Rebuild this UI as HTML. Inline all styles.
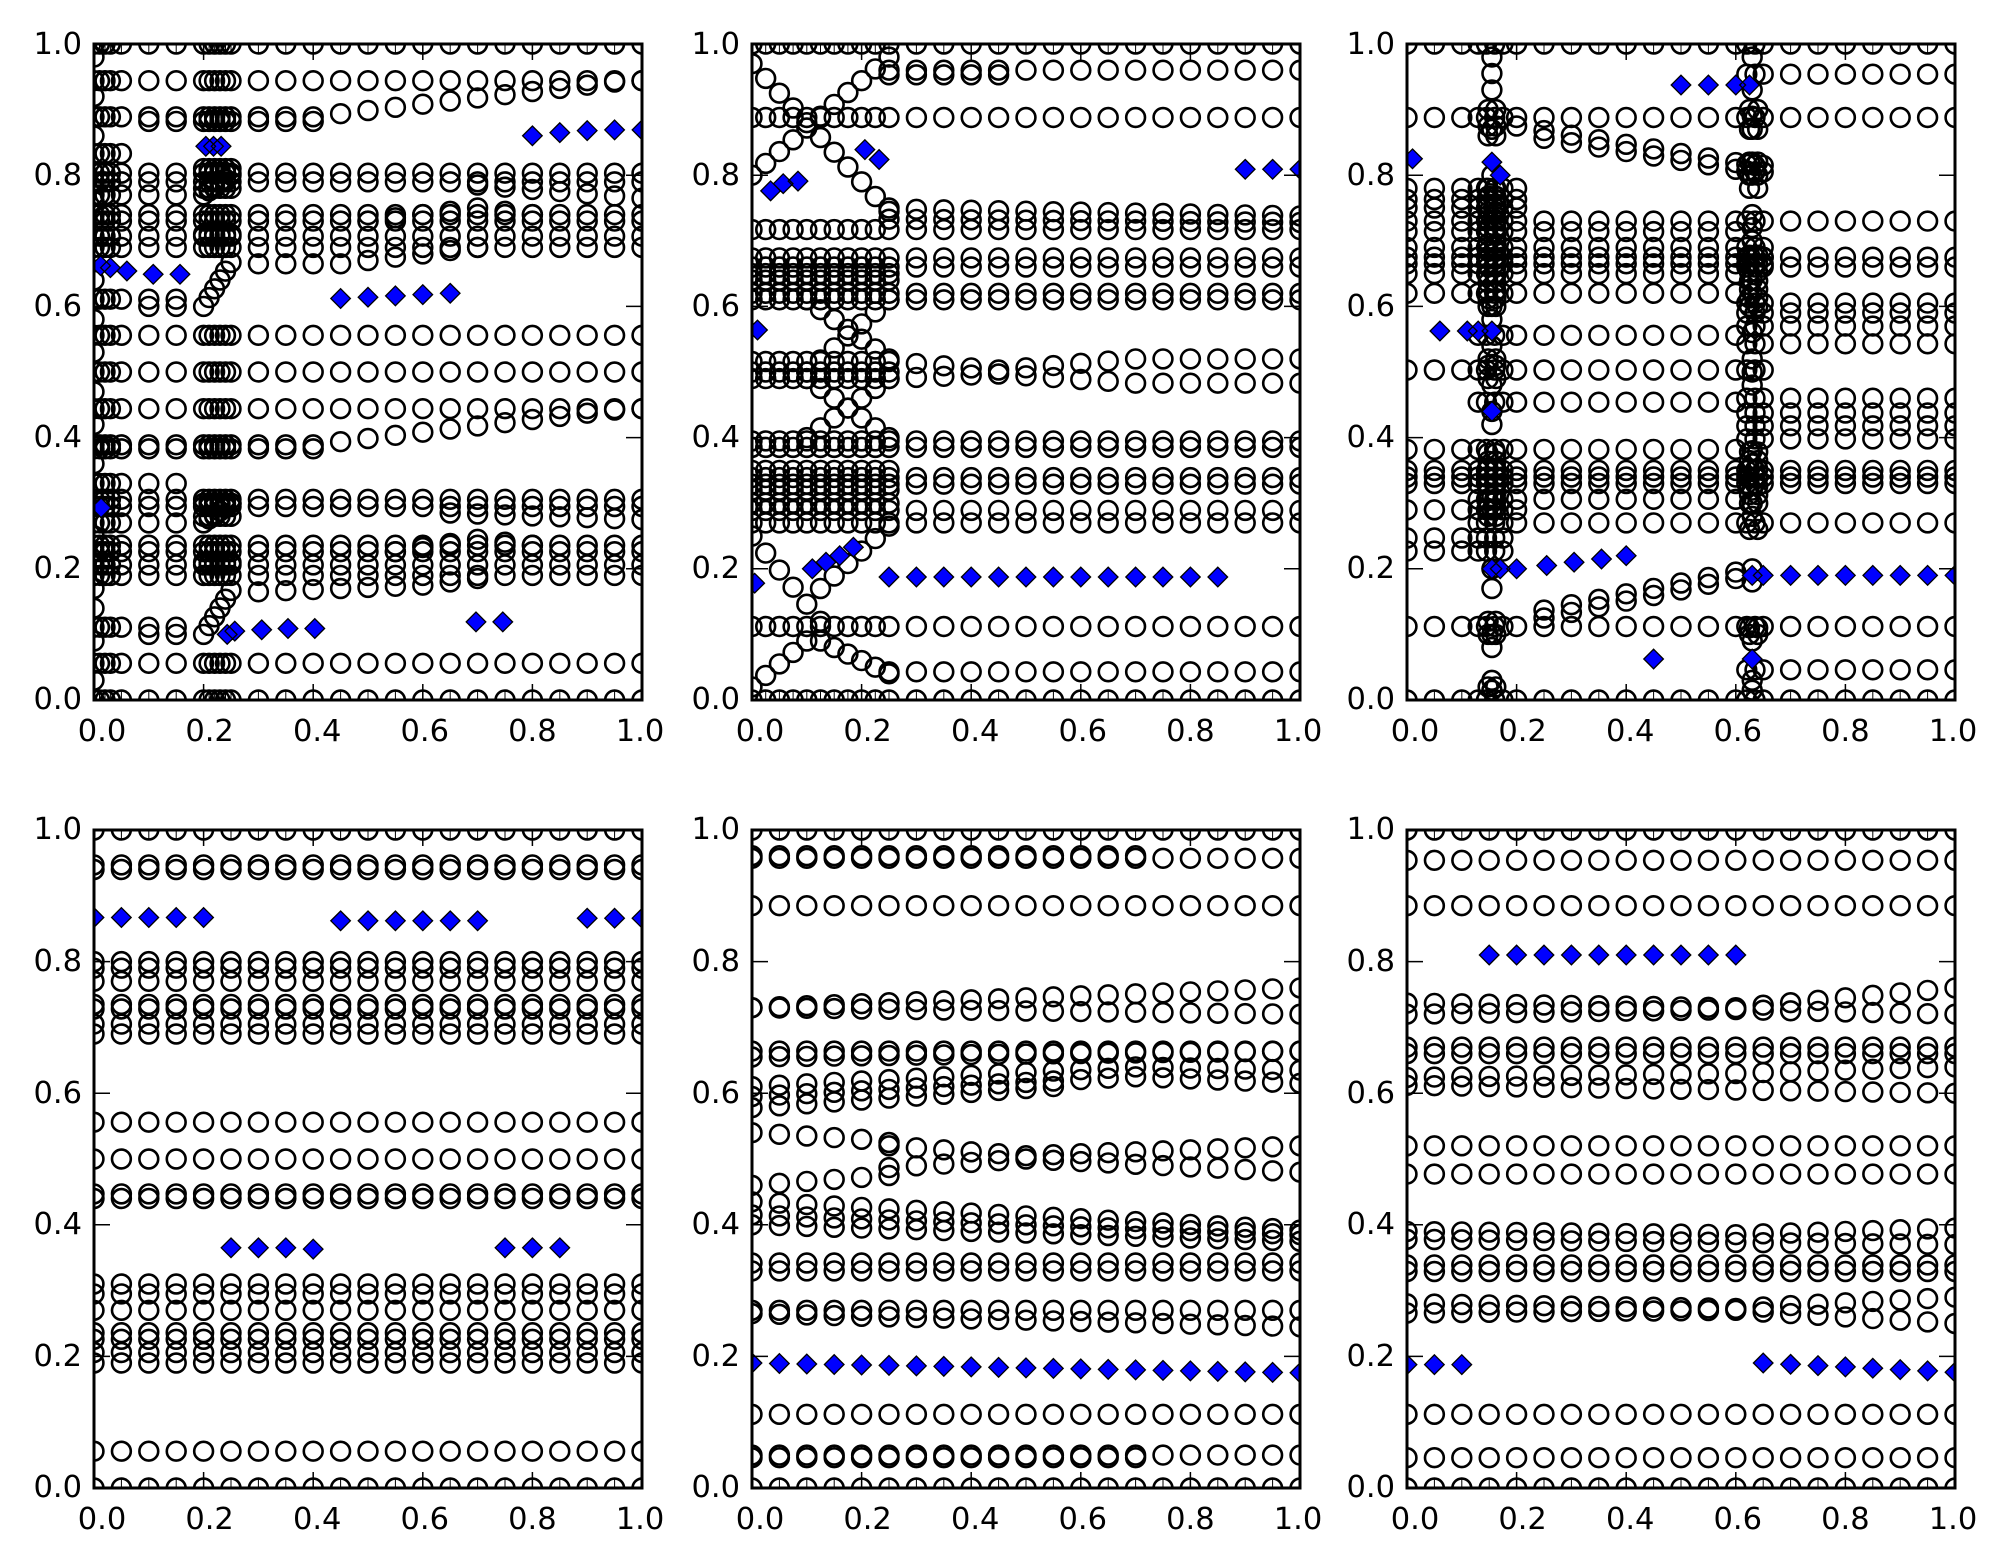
<!DOCTYPE html>
<html><head><meta charset="utf-8">
<style>html,body{margin:0;padding:0;background:#fff}svg{display:block}
.t{font-family:"DejaVu Sans","Liberation Sans",sans-serif;font-size:30.5px;fill:#000}
.ye{text-anchor:end}.xm{text-anchor:middle}</style></head>
<body>
<svg id="s" xmlns="http://www.w3.org/2000/svg" width="2004" height="1565" viewBox="0 0 2004 1565">
<rect width="2004" height="1565" fill="#fff"/>
<defs>
<clipPath id="c0"><rect x="94" y="44" width="548" height="656"/></clipPath>
<clipPath id="c1"><rect x="752" y="44" width="548" height="656"/></clipPath>
<clipPath id="c2"><rect x="1407" y="44" width="548" height="656"/></clipPath>
<clipPath id="c3"><rect x="94" y="830" width="548" height="658"/></clipPath>
<clipPath id="c4"><rect x="752" y="830" width="548" height="658"/></clipPath>
<clipPath id="c5"><rect x="1407" y="830" width="548" height="658"/></clipPath>
</defs>
<g id="m"></g>
<g id="tk" stroke="#000" stroke-width="1.5"></g>
<g fill="none" stroke="#000" stroke-width="3">
<rect x="94" y="44" width="548" height="656"/>
<rect x="752" y="44" width="548" height="656"/>
<rect x="1407" y="44" width="548" height="656"/>
<rect x="94" y="830" width="548" height="658"/>
<rect x="752" y="830" width="548" height="658"/>
<rect x="1407" y="830" width="548" height="658"/>
</g>
<g class="t">
<text class="ye" x="82" y="709">0.0</text><text class="ye" x="82" y="578">0.2</text><text class="ye" x="82" y="447">0.4</text><text class="ye" x="82" y="316">0.6</text><text class="ye" x="82" y="185">0.8</text><text class="ye" x="82" y="54">1.0</text>
<text class="ye" x="740" y="709">0.0</text><text class="ye" x="740" y="578">0.2</text><text class="ye" x="740" y="447">0.4</text><text class="ye" x="740" y="316">0.6</text><text class="ye" x="740" y="185">0.8</text><text class="ye" x="740" y="54">1.0</text>
<text class="ye" x="1395" y="709">0.0</text><text class="ye" x="1395" y="578">0.2</text><text class="ye" x="1395" y="447">0.4</text><text class="ye" x="1395" y="316">0.6</text><text class="ye" x="1395" y="185">0.8</text><text class="ye" x="1395" y="54">1.0</text>
<text class="ye" x="82" y="1497">0.0</text><text class="ye" x="82" y="1366">0.2</text><text class="ye" x="82" y="1234">0.4</text><text class="ye" x="82" y="1103">0.6</text><text class="ye" x="82" y="971">0.8</text><text class="ye" x="82" y="839">1.0</text>
<text class="ye" x="740" y="1497">0.0</text><text class="ye" x="740" y="1366">0.2</text><text class="ye" x="740" y="1234">0.4</text><text class="ye" x="740" y="1103">0.6</text><text class="ye" x="740" y="971">0.8</text><text class="ye" x="740" y="839">1.0</text>
<text class="ye" x="1395" y="1497">0.0</text><text class="ye" x="1395" y="1366">0.2</text><text class="ye" x="1395" y="1234">0.4</text><text class="ye" x="1395" y="1103">0.6</text><text class="ye" x="1395" y="971">0.8</text><text class="ye" x="1395" y="839">1.0</text>

<text class="xm" x="102" y="741">0.0</text><text class="xm" x="209.6" y="741">0.2</text><text class="xm" x="317.2" y="741">0.4</text><text class="xm" x="424.8" y="741">0.6</text><text class="xm" x="532.4" y="741">0.8</text><text class="xm" x="640" y="741">1.0</text>
<text class="xm" x="760" y="741">0.0</text><text class="xm" x="867.6" y="741">0.2</text><text class="xm" x="975.2" y="741">0.4</text><text class="xm" x="1082.8" y="741">0.6</text><text class="xm" x="1190.4" y="741">0.8</text><text class="xm" x="1298" y="741">1.0</text>
<text class="xm" x="1415" y="741">0.0</text><text class="xm" x="1522.6" y="741">0.2</text><text class="xm" x="1630.2" y="741">0.4</text><text class="xm" x="1737.8" y="741">0.6</text><text class="xm" x="1845.4" y="741">0.8</text><text class="xm" x="1953" y="741">1.0</text>
<text class="xm" x="102" y="1529">0.0</text><text class="xm" x="209.6" y="1529">0.2</text><text class="xm" x="317.2" y="1529">0.4</text><text class="xm" x="424.8" y="1529">0.6</text><text class="xm" x="532.4" y="1529">0.8</text><text class="xm" x="640" y="1529">1.0</text>
<text class="xm" x="760" y="1529">0.0</text><text class="xm" x="867.6" y="1529">0.2</text><text class="xm" x="975.2" y="1529">0.4</text><text class="xm" x="1082.8" y="1529">0.6</text><text class="xm" x="1190.4" y="1529">0.8</text><text class="xm" x="1298" y="1529">1.0</text>
<text class="xm" x="1415" y="1529">0.0</text><text class="xm" x="1522.6" y="1529">0.2</text><text class="xm" x="1630.2" y="1529">0.4</text><text class="xm" x="1737.8" y="1529">0.6</text><text class="xm" x="1845.4" y="1529">0.8</text><text class="xm" x="1953" y="1529">1.0</text>
</g>
</svg>
<script>
(function(){
var P=[[94,44,548,656],[752,44,548,656],[1407,44,548,656],[94,830,548,658],[752,830,548,658],[1407,830,548,658]];
var circ=[[],[],[],[],[],[]], dia=[[],[],[],[],[],[]], lns=[[],[],[],[],[],[]];
function C(p,x,y){var a=P[p],px=a[0]+x*a[2],py=a[1]+a[3]-y*a[3];
 circ[p].push('<circle cx="'+px.toFixed(1)+'" cy="'+py.toFixed(1)+'" r="9.4"/>');
 if(y<=0.0001){lns[p].push('M'+px.toFixed(1)+' '+py.toFixed(1)+'v-9');}
 if(y>=0.9999){lns[p].push('M'+px.toFixed(1)+' '+py.toFixed(1)+'v9');}
}
function D(p,x,y){var a=P[p],px=a[0]+x*a[2],py=a[1]+a[3]-y*a[3],s=9.8;
 dia[p].push('M'+px.toFixed(1)+' '+(py-s).toFixed(1)+'L'+(px+s).toFixed(1)+' '+py.toFixed(1)+'L'+px.toFixed(1)+' '+(py+s).toFixed(1)+'L'+(px-s).toFixed(1)+' '+py.toFixed(1)+'Z');}
function rng(a,b,s){var r=[];for(var v=a;v<=b+1e-9;v+=s)r.push(+v.toFixed(4));return r;}
function L(pts){return function(x){if(x<=pts[0][0])return pts[0][1];for(var i=1;i<pts.length;i++){if(x<=pts[i][0]){var x0=pts[i-1][0],y0=pts[i-1][1],x1=pts[i][0],y1=pts[i][1];return y0+(y1-y0)*(x-x0)/(x1-x0);}}return pts[pts.length-1][1];};}
function R(p,xs,f,x0,x1){if(x0===undefined)x0=-1;if(x1===undefined)x1=2;for(var i=0;i<xs.length;i++){var x=xs[i];if(x>=x0-1e-9&&x<=x1+1e-9)C(p,x,typeof f==='number'?f:f(x));}}
function DL(p,l){l.forEach(function(d){D(p,d[0],d[1]);});}
var G=rng(0,1,0.05);

/* ---------- Panel 0 ---------- */
var X=[0,0.01,0.02,0.03,0.05,0.1,0.15,0.2,0.21,0.22,0.23,0.24,0.25].concat(rng(0.3,1,0.05));
[0,1,0.944,0.556,0.5,0.444,0.056].forEach(function(y){R(0,X,y);});
R(0,X,0.889,0,0.4);R(0,X,0.882,0.1,0.4);
R(0,X,L([[0.4,0.889],[0.95,0.942],[1,0.944]]),0.45,1);
R(0,X,0.803);R(0,X,0.79);R(0,X,L([[0.7,0.785],[1,0.765]]),0.7,1);
R(0,X,0.74);R(0,X,0.73);R(0,X,L([[0.5,0.73],[0.7,0.75],[0.8,0.74]]),0.5,0.8);
R(0,X,0.707);R(0,X,0.69);
R(0,X,L([[0.3,0.665],[0.45,0.665],[0.7,0.69]]),0.3,0.7);
R(0,X,0.389,0,0.4);R(0,X,0.383,0,0.4);
R(0,X,L([[0.4,0.389],[0.95,0.442],[1,0.444]]),0.45,1);
R(0,X,0.306);R(0,X,0.295);R(0,X,L([[0.65,0.285],[1,0.275]]),0.65,1);
R(0,X,0.236);R(0,X,0.226);R(0,X,L([[0.55,0.226],[0.7,0.245],[0.8,0.236]]),0.55,0.8);
R(0,X,0.206);R(0,X,0.19);
R(0,X,L([[0.3,0.165],[0.6,0.175],[0.75,0.19]]),0.3,0.7);
var XL=[0,0.01,0.02,0.03,0.05,0.1,0.15];
[0.611,0.111,0.33,0.27,0.77].forEach(function(y){R(0,XL,y);});
R(0,XL,0.833,0,0.05);
R(0,XL,0.6,0.1,0.15);R(0,XL,0.1,0.1,0.15);
[0.98,0.92,0.86,0.76,0.64,0.58,0.53,0.47,0.42,0.36,0.25,0.17,0.14,0.09,0.03].forEach(function(y){C(0,0,y);});
var XM=[0.2,0.21,0.22,0.23,0.24,0.25];
[0.81,0.78,0.71,0.3,0.28,0.21].forEach(function(y){R(0,XM,y);});
XM.forEach(function(x,i){C(0,x,0.6+i*0.0134);C(0,x,0.1+i*0.0134);C(0,x,0.77+i*0.006);C(0,x,0.27+i*0.006);});
DL(0,[[0.012,0.662],[0.03,0.659],[0.06,0.654],[0.108,0.649],[0.157,0.649],
[0.204,0.844],[0.218,0.844],[0.232,0.844],
[0.8,0.86],[0.85,0.865],[0.9,0.868],[0.95,0.869],[1,0.869],
[0.45,0.612],[0.5,0.614],[0.55,0.616],[0.6,0.618],[0.65,0.62],
[0.013,0.293],
[0.243,0.1],[0.257,0.105],[0.306,0.107],[0.354,0.109],[0.403,0.109],
[0.697,0.119],[0.746,0.119]]);

/* ---------- Panel 1 ---------- */
var XL2=rng(0,0.25,0.025),XR2=rng(0.3,1,0.05),X2=XL2.concat(XR2);
[0,1,0.888,0.717,0.674,0.66,0.62,0.61,0.395,0.385,0.339,0.329,0.289,0.27,0.112].forEach(function(y){R(1,X2,y);});
R(1,X2,0.96,0.25,1);R(1,X2,0.953,0.25,0.45);
R(1,X2,L([[0.25,0.75],[0.3,0.748],[1,0.738]]),0.25,1);
R(1,X2,L([[0.25,0.733],[1,0.728]]),0.25,1);
R(1,X2,0.043,0.25,1);
R(1,X2,L([[0,0.516],[0.25,0.516],[0.45,0.503],[0.7,0.52]]));
R(1,X2,L([[0,0.49],[0.25,0.49],[0.45,0.497],[0.7,0.483]]));
[0.65,0.64,0.35,0.32,0.3,0.5].forEach(function(y){R(1,XL2,y);});
XL2.forEach(function(x){
 C(1,x,0.97-0.9*x);C(1,x,0.8+0.72*x);
 if(x>=0.1-1e-9){var t=(x-0.1)/0.15;C(1,x,0.61-0.09*t);C(1,x,0.5+0.11*t);C(1,x,0.49-0.09*t);C(1,x,0.4+0.09*t);}
 if(x<=0.125){var u=x/0.125;C(1,x,0.25-0.13*u);}
 if(x>=0.125-1e-9){var w=(x-0.125)/0.125;C(1,x,0.17+0.095*w);C(1,x,0.09-0.05*w);}
 if(x<=0.1){C(1,x,0.02+0.7*x);}
});
DL(1,[[0.005,0.178],[0.11,0.2],[0.135,0.21],[0.16,0.22],[0.185,0.233],
[0.034,0.776],[0.057,0.787],[0.084,0.791],[0.206,0.839],[0.232,0.824],
[0.9,0.809],[0.95,0.809],[1,0.809],[0.01,0.564]]);
rng(0.25,0.85,0.05).forEach(function(x){D(1,x,0.1875);});

/* ---------- Panel 2 ---------- */
var X3=[0,0.05,0.1,0.13,0.145,0.16,0.175].concat(rng(0.2,0.6,0.05),[0.62,0.635,0.65],rng(0.7,1,0.05));
[0,1,0.888,0.73,0.35,0.34,0.33,0.112].forEach(function(y){R(2,X3,y);});
R(2,X3,0.954,0.62,1);
R(2,X3,L([[0.2,0.875],[0.63,0.815]]),0.2,0.65);
R(2,X3,L([[0.2,0.863],[0.63,0.805]]),0.25,0.65);
[0.78,0.763,0.75].forEach(function(y){R(2,X3,y,0,0.2);});
R(2,X3,0.714,0,0.6);
[0.69,0.675,0.665].forEach(function(y){R(2,X3,y,0,0.65);});
[0.675,0.66].forEach(function(y){R(2,X3,y,0.62,1);});
[0.65,0.62].forEach(function(y){R(2,X3,y,0,0.6);});
[0.605,0.59,0.57,0.543].forEach(function(y){R(2,X3,y,0.62,1);});
R(2,X3,0.556,0.13,0.6);
R(2,X3,0.503,0,0.65);
R(2,X3,0.454,0.13,0.6);
[0.46,0.4375,0.418,0.398].forEach(function(y){R(2,X3,y,0.62,1);});
R(2,X3,0.382,0,0.6);
R(2,X3,0.306,0.13,0.6);
R(2,X3,0.29,0,0.2);
R(2,X3,0.27,0.13,1);
[0.247,0.227].forEach(function(y){R(2,X3,y,0,0.175);});
R(2,X3,L([[0.25,0.137],[0.6,0.195]]),0.25,0.6);
R(2,X3,L([[0.25,0.125],[0.6,0.185]]),0.25,0.6);
R(2,X3,0.046,0.62,1);
[0.98,0.955,0.93,0.87,0.8,0.6,0.58,0.54,0.48,0.44,0.42,0.31,0.29,0.2,0.17,0.1,0.08,0.03,0.015].forEach(function(y){C(2,0.155,y);});
[0.98,0.93,0.89,0.87,0.82,0.8,0.74,0.72,0.7,0.64,0.62,0.56,0.52,0.5,0.48,0.38,0.36,0.32,0.3,0.28,0.2,0.18,0.09,0.03,0.015].forEach(function(y){C(2,0.63,y);});
/* dense blobs */
[0.148,0.162].forEach(function(x){
 rng(0.6,0.78,0.012).forEach(function(y){C(2,x,y);});
 rng(0.28,0.38,0.012).forEach(function(y){C(2,x,y);});
 [0.49,0.51,0.52,0.86,0.875,0.9,0.1,0.12,0.02].forEach(function(y){C(2,x,y);});
});
[0.625,0.64].forEach(function(x){
 rng(0.6,0.68,0.013).forEach(function(y){C(2,x,y);});
 rng(0.3,0.38,0.013).forEach(function(y){C(2,x,y);});
 [0.78,0.8,0.82,0.87,0.9,0.26,0.11,0.1].forEach(function(y){C(2,x,y);});
});
DL(2,[[0.5,0.9375],[0.55,0.9375],[0.6,0.9375],[0.625,0.9375],
[0.01,0.825],[0.155,0.82],[0.17,0.8],
[0.06,0.5625],[0.11,0.5625],[0.13,0.5625],[0.155,0.5625],[0.155,0.44],
[0.155,0.2],[0.17,0.2],[0.2,0.2],[0.255,0.205],[0.305,0.21],[0.355,0.215],[0.4,0.22],
[0.63,0.19],[0.65,0.19],[0.45,0.0625],[0.63,0.0625]]);
rng(0.7,1,0.05).forEach(function(x){D(2,x,0.19);});

/* ---------- Panel 3 ---------- */
[0,1,0.947,0.94,0.8,0.79,0.77,0.735,0.728,0.705,0.69,0.556,0.5,0.447,0.44,0.31,0.295,0.27,0.236,0.226,0.206,0.19,0.056].forEach(function(y){R(3,G,y);});
[0,0.05,0.1,0.15,0.2].forEach(function(x){D(3,x,0.867);});
[0.45,0.5,0.55,0.6,0.65,0.7].forEach(function(x){D(3,x,0.862);});
[0.9,0.95,1].forEach(function(x){D(3,x,0.866);});
[0.25,0.3,0.35].forEach(function(x){D(3,x,0.365);});D(3,0.4,0.363);
[0.75,0.8,0.85].forEach(function(x){D(3,x,0.365);});

/* ---------- Panel 4 ---------- */
[0,1,0.885,0.112].forEach(function(y){R(4,G,y);});
R(4,G,0.957);R(4,G,0.961,0,0.7);
R(4,G,L([[0,0.73],[1,0.76]]));R(4,G,L([[0,0.73],[1,0.72]]));
R(4,G,0.664);R(4,G,L([[0,0.655],[1,0.664]]));
R(4,G,L([[0,0.61],[0.7,0.64],[1,0.635]]));R(4,G,L([[0,0.595],[0.7,0.625],[1,0.615]]));R(4,G,L([[0,0.578],[0.55,0.61]]),0,0.55);
R(4,G,L([[0,0.54],[0.2,0.53],[0.25,0.525]]),0,0.25);
R(4,G,L([[0.25,0.52],[0.5,0.505],[1,0.52]]),0.25,1);
R(4,G,L([[0.25,0.487],[0.5,0.5],[1,0.48]]),0.25,1);
R(4,G,L([[0,0.46],[0.25,0.475]]),0,0.25);
R(4,G,L([[0,0.435],[1,0.392]]));R(4,G,L([[0,0.415],[1,0.385]]));R(4,G,L([[0,0.4],[1,0.375]]));
R(4,G,0.342);R(4,G,0.33);
R(4,G,0.27);R(4,G,L([[0,0.265],[1,0.245]]));
R(4,G,0.05);R(4,G,0.046,0,0.7);
G.forEach(function(x){D(4,x,0.19-0.015*x);});

/* ---------- Panel 5 ---------- */
[0,1,0.954,0.885,0.52,0.477,0.112,0.046].forEach(function(y){R(5,G,y);});
R(5,G,L([[0,0.737],[0.6,0.73],[1,0.76]]));R(5,G,L([[0,0.72],[0.6,0.727],[1,0.72]]));
R(5,G,0.67);R(5,G,0.66);
R(5,G,L([[0,0.624],[0.6,0.63],[1,0.64]]));R(5,G,L([[0,0.612],[1,0.6]]));
R(5,G,L([[0,0.39],[0.6,0.385],[1,0.395]]));R(5,G,L([[0,0.378],[1,0.37]]));
R(5,G,0.339);R(5,G,0.329);
R(5,G,L([[0,0.28],[0.6,0.273],[1,0.29]]));R(5,G,L([[0,0.266],[0.6,0.27],[1,0.25]]));
rng(0.15,0.6,0.05).forEach(function(x){D(5,x,0.81);});
[0,0.05,0.1].forEach(function(x){D(5,x,0.1875);});
rng(0.65,1,0.05).forEach(function(x){D(5,x,0.19-0.014*(x-0.65)/0.35);});

/* ---------- render ---------- */
var h='';
for(var p=0;p<6;p++){
 h+='<g clip-path="url(#c'+p+')">';
 h+='<g fill="none" stroke="#000" stroke-width="2.6">'+circ[p].join('')+'</g>';
 h+='<path d="'+lns[p].join('')+'" stroke="#000" stroke-width="1" fill="none"/>';
 h+='<path d="'+dia[p].join('')+'" fill="#0000ff" stroke="#000" stroke-width="1.3"/>';
 h+='</g>';
}
document.getElementById('m').innerHTML=h;
var t='';
for(var q=0;q<6;q++){
 var a=P[q],l=a[0],tp=a[1],w=a[2],hh=a[3],b=tp+hh,r=l+w;
 [0.2,0.4,0.6,0.8].forEach(function(v){
  var y=(b-v*hh).toFixed(1),x=(l+v*w).toFixed(1);
  t+='M'+l+' '+y+'h16M'+r+' '+y+'h-16M'+x+' '+b+'v-16M'+x+' '+tp+'v16';
 });
}
document.getElementById('tk').innerHTML='<path d="'+t+'" fill="none"/>';
})();
</script>
</body></html>
